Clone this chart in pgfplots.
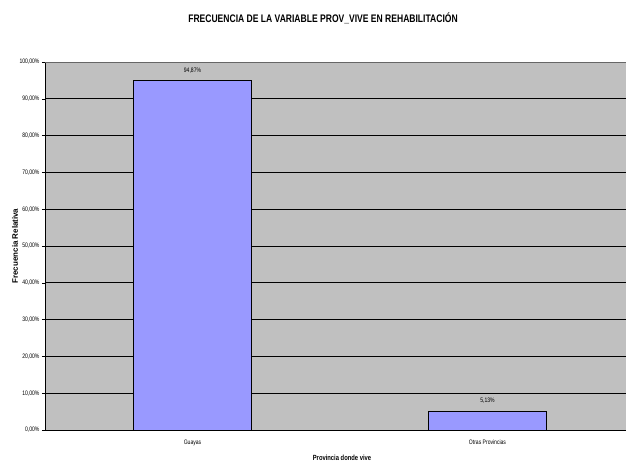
\documentclass[border=0pt]{standalone}
\usepackage{pgfplots}
\pgfplotsset{compat=1.18}
\usepackage{fontspec}
\setmainfont{Liberation Sans}
\newfontfamily\narrowfont[FakeStretch=0.78]{Liberation Sans}
\definecolor{plotbg}{HTML}{C0C0C0}
\definecolor{barfill}{HTML}{9999FF}
\begin{document}
\begin{tikzpicture}
\path[use as bounding box] (0,0) rectangle (626bp,462bp);
\begin{axis}[
  at={(45bp,32bp)}, anchor=south west,
  scale only axis, width=590bp, height=368bp,
  xmin=-0.5, xmax=1.5, ymin=0, ymax=100,
  axis background/.style={fill=plotbg},
  axis x line*=bottom, axis y line*=left,
  axis line style={black, line width=0.6pt},
  ytick={0,10,...,100},
  yticklabels={0{,}00\%,10{,}00\%,20{,}00\%,30{,}00\%,40{,}00\%,50{,}00\%,60{,}00\%,70{,}00\%,80{,}00\%,90{,}00\%,100{,}00\%},
  ymajorgrids, grid style={black, line width=0.6pt},
  ytick style={black}, tick align=outside, major tick length=3bp,
  xtick={0,1}, xticklabels={Guayas, Otras Provincias},
  xtick style={draw=none},
  extra x ticks={0.5}, extra x tick labels={},
  extra x tick style={xtick style={black}, grid=none},
  tick label style={font=\narrowfont\fontsize{6.5}{7}\selectfont, black},
  yticklabel style={xshift=1bp},
  xticklabel style={yshift=-3bp},
  clip=false,
]
\draw[gray!80!black, line width=0.6pt] (axis cs:-0.5,100) -- (axis cs:1.5,100);
\addplot[ybar, bar width=118bp, fill=barfill, draw=black, line width=0.8pt,
  nodes near coords, point meta=explicit symbolic,
  every node near coord/.style={font=\narrowfont\fontsize{6.5}{7}\selectfont, black, yshift=4bp}]
  coordinates {(0,94.87) [94{,}87\%] (1,5.13) [5{,}13\%]};
\end{axis}
\node[font=\narrowfont\fontsize{11}{12}\selectfont\bfseries] at (323bp,444bp) {FRECUENCIA DE LA VARIABLE PROV\_VIVE EN REHABILITACIÓN};
\node[font=\fontsize{8}{9}\selectfont\bfseries, rotate=90] at (15bp,216bp) {Frecuencia Relativa};
\node[font=\narrowfont\fontsize{7.5}{8}\selectfont\bfseries] at (342bp,4bp) {Provincia donde vive};
\end{tikzpicture}
\end{document}
